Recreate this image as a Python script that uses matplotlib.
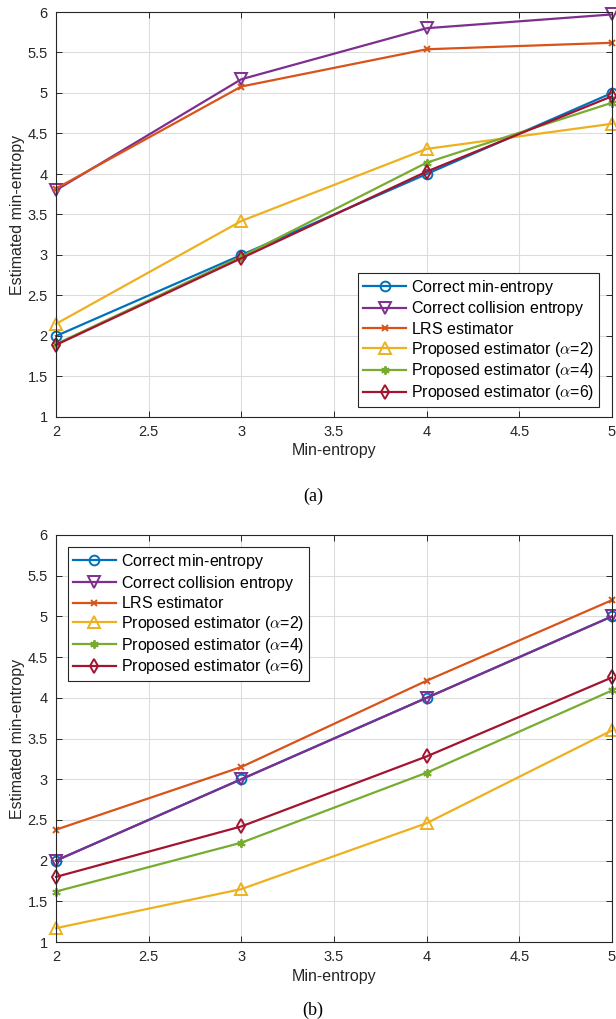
import matplotlib
matplotlib.use('Agg')
import matplotlib.pyplot as plt
import numpy as np

plt.rcParams['font.family'] = ['Liberation Sans', 'DejaVu Sans']
plt.rcParams['mathtext.fontset'] = 'cm'

x = [2, 3, 4, 5]

# (a)
a_min = [2.0, 3.0, 4.0, 5.0]
a_coll = [3.8, 5.17, 5.8, 5.97]
a_lrs = [3.82, 5.08, 5.54, 5.62]
a_p2 = [2.15, 3.42, 4.31, 4.62]
a_p4 = [1.9, 2.98, 4.14, 4.88]
a_p6 = [1.89, 2.96, 4.03, 4.96]

# (b)
b_min = [2.0, 3.0, 4.0, 5.0]
b_coll = [2.0, 3.0, 4.0, 5.0]
b_lrs = [2.38, 3.15, 4.21, 5.2]
b_p2 = [1.17, 1.65, 2.46, 3.6]
b_p4 = [1.62, 2.22, 3.08, 4.09]
b_p6 = [1.8, 2.42, 3.28, 4.25]

# thin math space on plain labels so every legend row is laid out the same way
labels = [r'Correct min-entropy$\,$', r'Correct collision entropy$\,$', r'LRS estimator$\,$',
          r'Proposed estimator ($\alpha$=2)', r'Proposed estimator ($\alpha$=4)',
          r'Proposed estimator ($\alpha$=6)']
colors = ['#0072BD', '#7E2F8E', '#D95319', '#EDB120', '#77AC30', '#A2142F']
markers = ['o', 'v', 'x', '^', (6, 2, 0), 'd']
msizes = [7, 8, 5, 8, 6, 7]

fig = plt.figure(figsize=(6.16, 10.19), dpi=100)
W, H = 616, 1019
ax1 = fig.add_axes([56 / W, 1 - 417 / H, (612 - 56) / W, (417 - 12) / H])
ax2 = fig.add_axes([56 / W, 1 - 942 / H, (612 - 56) / W, (942 - 535) / H])


def draw(ax, series, loc, anchor):
    for ys, lab, c, m, ms in zip(series, labels, colors, markers, msizes):
        ax.plot(x, ys, color=c, marker=m, markersize=ms, markerfacecolor='none',
                markeredgewidth=1.4, linewidth=1.6, label=lab, clip_on=False)
    ax.set_xlim(2, 5)
    ax.set_ylim(1, 6)
    ax.set_xticks([2, 2.5, 3, 3.5, 4, 4.5, 5])
    ax.set_xticklabels(['2', '2.5', '3', '3.5', '4', '4.5', '5'])
    ax.set_yticks(np.arange(1, 6.01, 0.5))
    ax.set_yticklabels(['1', '1.5', '2', '2.5', '3', '3.5', '4', '4.5', '5', '5.5', '6'])
    ax.grid(True, color='#dcdcdc', linewidth=0.8)
    ax.set_axisbelow(True)
    ax.tick_params(direction='in', top=True, right=True, labelsize=10.5,
                   length=4, width=0.7, colors='#262626', pad=6)
    for s in ax.spines.values():
        s.set_color('#262626')
        s.set_linewidth(0.8)
    ax.set_xlabel('Min-entropy', fontsize=11.5, color='#262626', labelpad=3)
    ax.set_ylabel('Estimated min-entropy', fontsize=11.5, color='#262626', labelpad=2)
    leg = ax.legend(loc=loc, bbox_to_anchor=anchor, fontsize=11.5, fancybox=False,
                    edgecolor='#262626', framealpha=1, handlelength=2.7,
                    borderpad=0.3, labelspacing=0.17, handletextpad=0.3,
                    borderaxespad=0)
    leg.get_frame().set_linewidth(0.8)


draw(ax1, [a_min, a_coll, a_lrs, a_p2, a_p4, a_p6], 'lower right',
     ((599 - 56) / (612 - 56), (417 - 407) / (417 - 12)))
draw(ax2, [b_min, b_coll, b_lrs, b_p2, b_p4, b_p6], 'upper left',
     ((68 - 56) / (612 - 56), (942 - 547) / (942 - 535)))

fig.text(313 / W, 1 - 496 / H, '(a)', ha='center', va='center',
         fontsize=13, family='Liberation Serif')
fig.text(313 / W, 1 - 1010 / H, '(b)', ha='center', va='center',
         fontsize=13, family='Liberation Serif')

fig.savefig('out.png', dpi=100)
